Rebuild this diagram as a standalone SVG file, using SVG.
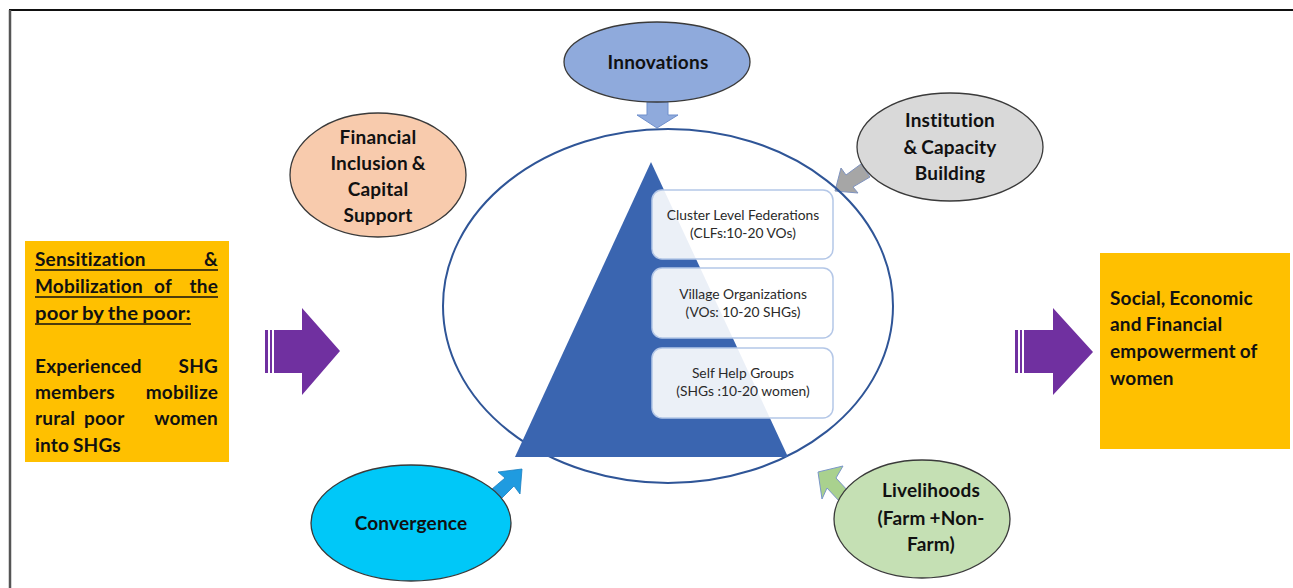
<svg xmlns="http://www.w3.org/2000/svg" width="1293" height="588" viewBox="0 0 1293 588">
  <style>
    .t { font-family: Lato, "Open Sans", "Liberation Sans", sans-serif; font-weight: bold; font-size: 19px; letter-spacing: 0.2px; word-spacing: -1px; fill: #111; }
    .c { text-anchor: middle; }
    .e { text-anchor: end; }
    .s { font-family: Lato, "Open Sans", "Liberation Sans", sans-serif; font-size: 13.8px; fill: #2a2a2a; text-anchor: middle; }
    .oval { stroke: #3a3a3a; stroke-width: 1.3; }
    .tier { fill: #ffffff; fill-opacity: 0.9; stroke: #b4c7e7; stroke-width: 1.5; }
    .ybox { fill: #ffc000; }
    .purple { fill: #7030a0; }
    .ul { stroke: #111; stroke-width: 1.5; }
  </style>

  <rect width="1293" height="588" fill="#ffffff"/>
  <!-- page frame -->
  <line x1="9" y1="10" x2="1293" y2="10" stroke="#111" stroke-width="2"/>
  <line x1="10" y1="10" x2="10" y2="588" stroke="#555" stroke-width="2.5"/>

  <!-- connectors: block arrows -->
  <g id="connectors">
    <!-- Innovations -> core -->
    <polygon points="647,102 668,102 668,115 678,115 657,128 637,115 647,115" fill="#8faadc" stroke="#6f8fcc" stroke-width="1"/>
    <!-- Institution -> core -->
    <polygon points="870,177 861,164 846,175 841,168 835,191 858,193 853,187" fill="#a6a6a6" stroke="#7f93bf" stroke-width="1"/>
    <!-- Convergence -> core -->
    <polygon points="492,489 501,499 514,486 520,494 522,469 498,472 505,478" fill="#1f9be0" stroke="#1a7fc0" stroke-width="0.8"/>
    <!-- Livelihoods -> core -->
    <polygon points="849,492 840,502 827,488 822,499 818,472 843,466 836,478" fill="#a9d18e" stroke="#7a96c9" stroke-width="1"/>
    <!-- input arrow -->
    <g class="purple">
      <rect x="265" y="330" width="3" height="43"/>
      <rect x="270" y="330" width="2" height="43"/>
      <polygon points="274,330 302,330 302,308 340,351 302,395 302,373 274,373"/>
    </g>
    <!-- output arrow -->
    <g class="purple">
      <rect x="1015" y="330" width="3" height="43"/>
      <rect x="1020" y="330" width="2" height="43"/>
      <polygon points="1024,330 1053,330 1053,308 1093,352 1053,395 1053,373 1024,373"/>
    </g>
  </g>

  <!-- central hub with pyramid -->
  <g id="core">
    <ellipse cx="668" cy="306" rx="225" ry="177" fill="none" stroke="#2f5597" stroke-width="2"/>
    <polygon points="651,162 788,457 515,457" fill="#3a65b0"/>
  </g>

  <g id="tier-clf">
    <rect class="tier" x="652" y="190" width="181" height="69" rx="10"/>
    <text class="s" x="743" y="220">Cluster Level Federations</text>
    <text class="s" x="743" y="238">(CLFs:10-20 VOs)</text>
  </g>
  <g id="tier-vo">
    <rect class="tier" x="652" y="268" width="181" height="70" rx="10"/>
    <text class="s" x="743" y="299">Village Organizations</text>
    <text class="s" x="743" y="317">(VOs: 10-20 SHGs)</text>
  </g>
  <g id="tier-shg">
    <rect class="tier" x="652" y="348" width="181" height="70" rx="10"/>
    <text class="s" x="743" y="378">Self Help Groups</text>
    <text class="s" x="743" y="396">(SHGs :10-20 women)</text>
  </g>

  <g id="innovations">
    <ellipse class="oval" cx="657" cy="62" rx="93" ry="40" fill="#8faadc"/>
    <text class="t c" x="658" y="69">Innovations</text>
  </g>

  <g id="institution">
    <ellipse class="oval" cx="950" cy="147" rx="93" ry="54" fill="#d9d9d9"/>
    <text class="t c" x="950" y="127">Institution</text>
    <text class="t c" x="950" y="154">&amp; Capacity</text>
    <text class="t c" x="950" y="180">Building</text>
  </g>

  <g id="financial">
    <ellipse class="oval" cx="378" cy="175" rx="88" ry="62" fill="#f8cbad"/>
    <text class="t c" x="378" y="144">Financial</text>
    <text class="t c" x="378" y="170">Inclusion &amp;</text>
    <text class="t c" x="378" y="196">Capital</text>
    <text class="t c" x="378" y="222">Support</text>
  </g>

  <g id="convergence">
    <ellipse class="oval" cx="411" cy="523" rx="100" ry="58" fill="#00c8f8"/>
    <text class="t c" x="411" y="530">Convergence</text>
  </g>

  <g id="livelihoods">
    <ellipse class="oval" cx="922" cy="519" rx="88" ry="59" fill="#c5e0b4"/>
    <text class="t c" x="931" y="497">Livelihoods</text>
    <text class="t c" x="931" y="525">(Farm +Non-</text>
    <text class="t c" x="931" y="551">Farm)</text>
  </g>

  <g id="mobilization">
    <rect class="ybox" x="25" y="241" width="204" height="221"/>
    <text class="t" x="35" y="266">Sensitization</text>
    <text class="t e" x="218" y="266">&amp;</text>
    <text class="t" x="35" y="293">Mobilization</text>
    <text class="t c" x="163" y="293">of</text>
    <text class="t e" x="218" y="293">the</text>
    <text class="t" x="35" y="320" textLength="156" lengthAdjust="spacingAndGlyphs">poor by the poor:</text>
    <line class="ul" x1="35" y1="270" x2="218" y2="270"/>
    <line class="ul" x1="35" y1="297" x2="218" y2="297"/>
    <line class="ul" x1="35" y1="324" x2="191" y2="324"/>
    <text class="t" x="35" y="373">Experienced</text>
    <text class="t e" x="218" y="373">SHG</text>
    <text class="t" x="35" y="399">members</text>
    <text class="t e" x="218" y="399">mobilize</text>
    <text class="t" x="35" y="425">rural</text>
    <text class="t" x="84" y="425">poor</text>
    <text class="t e" x="218" y="425">women</text>
    <text class="t" x="35" y="452">into SHGs</text>
  </g>

  <g id="empowerment">
    <rect class="ybox" x="1100" y="253" width="190" height="196"/>
    <text class="t" x="1110" y="305">Social, Economic</text>
    <text class="t" x="1110" y="331">and Financial</text>
    <text class="t" x="1110" y="358">empowerment of</text>
    <text class="t" x="1110" y="385">women</text>
  </g>
</svg>
